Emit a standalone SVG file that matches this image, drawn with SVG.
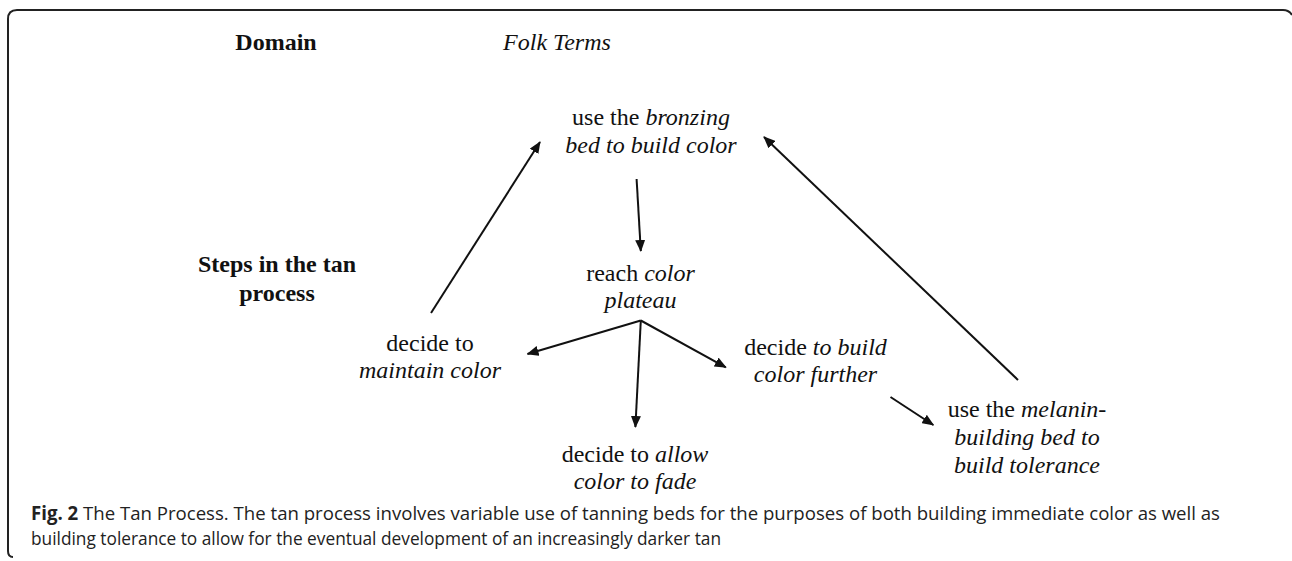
<svg xmlns="http://www.w3.org/2000/svg" width="1292" height="561" viewBox="0 0 1292 561">
<style>
.t{font-family:"Liberation Serif","Times New Roman",serif;font-size:24px;fill:#111;text-anchor:middle}
.b{font-weight:bold}
.i{font-style:italic}
.cap{font-family:"Open Sans","Liberation Sans",sans-serif;font-size:19px;fill:#222}
.c{stroke:#111;stroke-width:2;fill:none;marker-end:url(#ah)}
</style>
<defs>
<marker id="ah" viewBox="0 0 12 10" refX="11" refY="5" markerWidth="12" markerHeight="10" markerUnits="userSpaceOnUse" orient="auto">
<path d="M0,0 L12,5 L0,10 Z" fill="#111"/>
</marker>
</defs>
<rect width="1292" height="561" fill="#fff"/>
<path d="M13,557 Q8,557 8,551 L8,19 Q8,10 17,10 L1283,10 Q1289,10 1292,15" fill="none" stroke="#222" stroke-width="2"/>
<g id="hdr-domain"><text class="t b" x="276" y="50">Domain</text></g>
<g id="hdr-folk"><text class="t i" x="557" y="50">Folk Terms</text></g>
<g id="steps"><text class="t b" x="277" y="272">Steps in the tan</text><text class="t b" x="277" y="301">process</text></g>
<g id="n-bronzing"><text class="t" x="651" y="125">use the <tspan class="i">bronzing</tspan></text><text class="t i" x="651" y="153">bed to build color</text></g>
<g id="n-plateau"><text class="t" x="640.5" y="281">reach <tspan class="i">color</tspan></text><text class="t i" x="640.5" y="308">plateau</text></g>
<g id="n-maintain"><text class="t" x="430" y="351">decide to</text><text class="t i" x="430" y="378">maintain color</text></g>
<g id="n-further"><text class="t" x="815.5" y="355">decide <tspan class="i">to build</tspan></text><text class="t i" x="815.5" y="382">color further</text></g>
<g id="n-fade"><text class="t" x="635" y="462">decide to <tspan class="i">allow</tspan></text><text class="t i" x="635" y="489">color to fade</text></g>
<g id="n-melanin"><text class="t" x="1027" y="417">use the <tspan class="i">melanin-</tspan></text><text class="t i" x="1027" y="445">building bed to</text><text class="t i" x="1027" y="473">build tolerance</text></g>
<g id="connectors">
<line class="c" x1="431" y1="313" x2="540" y2="142"/>
<line class="c" x1="1018" y1="380" x2="764" y2="137"/>
<line class="c" x1="636.6" y1="179" x2="640.8" y2="251"/>
<line class="c" x1="640.8" y1="320.5" x2="527.5" y2="354"/>
<line class="c" x1="640.8" y1="320.5" x2="635.4" y2="427"/>
<line class="c" x1="640.8" y1="320.5" x2="725.8" y2="367.3"/>
<line class="c" x1="890.5" y1="397" x2="933.3" y2="425"/>
</g>
<g id="caption">
<text class="cap" x="31" y="520" textLength="1189" lengthAdjust="spacingAndGlyphs"><tspan font-weight="bold">Fig. 2</tspan> The Tan Process. The tan process involves variable use of tanning beds for the purposes of both building immediate color as well as</text>
<text class="cap" x="31" y="545" textLength="690" lengthAdjust="spacingAndGlyphs">building tolerance to allow for the eventual development of an increasingly darker tan</text>
</g>
</svg>
